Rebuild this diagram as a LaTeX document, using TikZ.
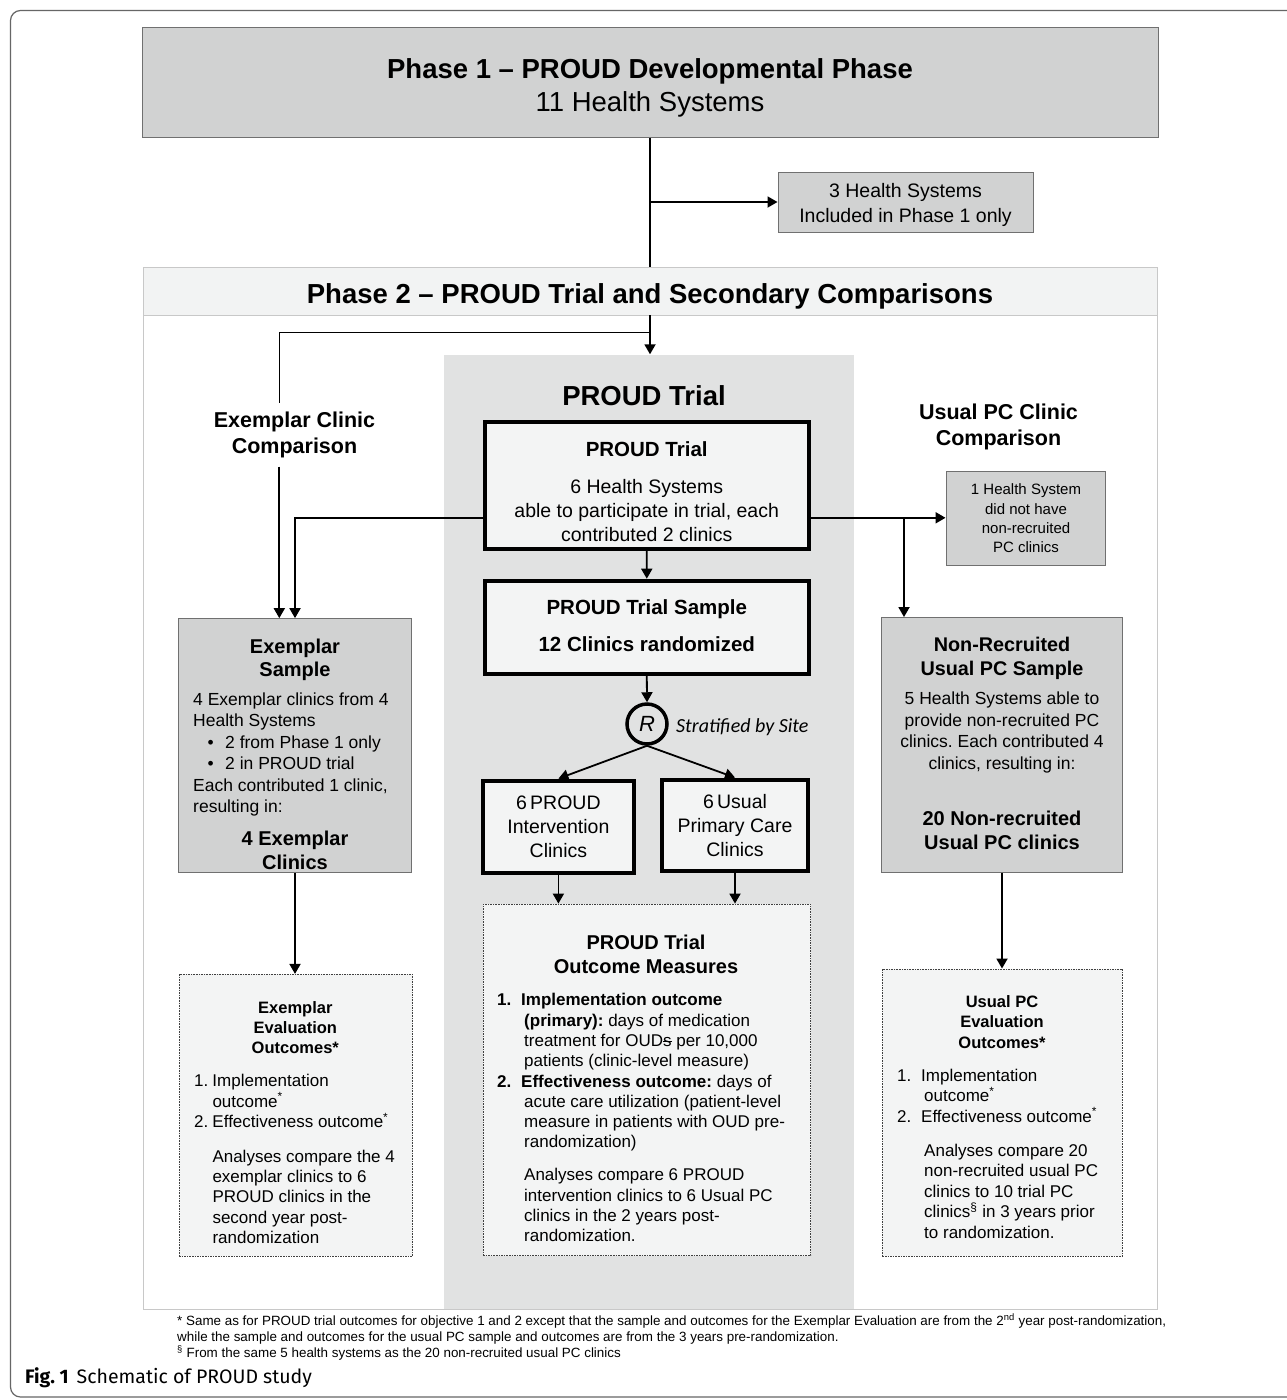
\documentclass[tikz,border=0pt]{standalone}
\usepackage{fontspec}
\setmainfont{Liberation Sans}
\newfontfamily\capfont{Fira Sans}
\newfontfamily\calfont{Carlito}
\usetikzlibrary{arrows.meta}
\definecolor{boxgray}{HTML}{D1D2D2}
\definecolor{regiongray}{HTML}{E1E2E2}
\definecolor{lightbox}{HTML}{F3F4F4}
\definecolor{headfill}{HTML}{F2F3F3}
\definecolor{edgegray}{HTML}{707070}
\definecolor{areaedge}{HTML}{C8C8C8}
\newcommand\fsz[2]{\fontsize{#1}{#2}\selectfont}
\newcommand\strk[1]{#1\llap{\rule[0.28em]{0.5em}{0.07em}}}
\frenchspacing
\begin{document}
\begin{tikzpicture}[x=1pt,y=-1pt,
  arr/.style={line width=1.8pt,-{Triangle[length=10pt,width=11pt]}},
  conn/.style={line width=1.8pt},
  graybox/.style={draw=edgegray,line width=1pt,fill=boxgray,inner sep=0pt},
  thickbox/.style={draw=black,line width=4pt,fill=lightbox,inner sep=0pt},
  dashbox/.style={draw=black!75,line width=0.9pt,dash pattern=on 1.6pt off 1pt,fill=lightbox,inner sep=0pt},
  t/.style={inner sep=0pt,align=center},
  tl/.style={inner sep=0pt,align=left,anchor=west}]
\useasboundingbox (0,0) rectangle (1287,1400);
\fill[white] (0,0) rectangle (1287,1400);
% outer frame
\draw[line width=1.2pt,draw=black!60,rounded corners=10pt] (1300,10.5) -- (10.5,10.5) -- (10.5,1397) -- (1300,1397);

% Phase 1
\node[graybox,minimum width=1016pt,minimum height=110pt] (p1) at (650,82) {};
\node[t,anchor=base,font=\bfseries\fsz{27.5}{33}] (p1t) at (650,78) {Phase 1 – PROUD Developmental Phase};
\node[t,anchor=base,font=\fsz{27.5}{33}] (p1s) at (650,111.6) {11 Health Systems};
\node[graybox,minimum width=255pt,minimum height=60pt] (h3) at (905.5,202) {};
\node[t,font=\fsz{19.5}{24.5}] (h3t) at (905.5,205) {3 Health Systems\\Included in Phase 1 only};

% Phase 2 area
\node[draw=areaedge,line width=1pt,fill=white,minimum width=1014pt,minimum height=1042pt,inner sep=0pt] (p2) at (650,788) {};
\node[draw=areaedge,line width=0.8pt,fill=headfill,minimum width=1014pt,minimum height=48pt,inner sep=0pt] (p2head) at (650,291) {};
\node[t,anchor=base,font=\bfseries\fsz{27.5}{33}] (p2t) at (650,303) {Phase 2 – PROUD Trial and Secondary Comparisons};
\node[fill=regiongray,minimum width=410pt,minimum height=954pt,inner sep=0pt] (trialregion) at (649,831.5) {};
\node[t,anchor=base,font=\bfseries\fsz{27.5}{33}] (trialhead) at (644,405) {PROUD Trial};

% centre column
\node[thickbox,minimum width=324pt,minimum height=127pt] (trial) at (646.7,485.5) {};
\node[t,anchor=base,font=\bfseries\fsz{20.5}{24}] (trialt) at (646.7,456.4) {PROUD Trial};
\node[t,font=\fsz{19.5}{24}] (trialb) at (646.7,511) {6 Health Systems\\able to participate in trial, each\\contributed 2 clinics};
\node[thickbox,minimum width=324pt,minimum height=93pt] (sample) at (646.8,627.2) {};
\node[t,anchor=base,font=\bfseries\fsz{20.5}{24}] (samplet) at (646.8,614.4) {PROUD Trial Sample};
\node[t,anchor=base,font=\bfseries\fsz{20.5}{24}] (sampleb) at (646.8,651.4) {12 Clinics randomized};
\node[circle,draw=black,line width=3.5pt,minimum size=40pt,inner sep=0pt,font=\itshape\fsz{22}{22}] (R) at (647,724) {R};
\node[t,anchor=base west,font=\calfont\itshape\fsz{20}{24}] (strat) at (676,732.4) {Stratified by Site};
\node[thickbox,minimum width=151pt,minimum height=92pt] (int) at (558.4,826.6) {};
\node[t,font=\fsz{19.5}{24}] (intt) at (558.4,826.4) {6\,PROUD\\Intervention\\Clinics};
\node[thickbox,minimum width=146pt,minimum height=91.5pt] (usual) at (735,825.3) {};
\node[t,font=\fsz{19.5}{24}] (usualt) at (735,825.5) {6\,Usual\\Primary Care\\Clinics};
\node[dashbox,minimum width=327.7pt,minimum height=351.7pt] (outc) at (646.9,1079.9) {};
\node[t,font=\bfseries\fsz{20}{24}] (outct) at (646,954) {PROUD Trial\\Outcome Measures};
\node[tl,font=\fsz{17}{20.3}] (outcb) at (497,1117.8) {%
\makebox[24pt][l]{\textbf{1.}}\textbf{Implementation outcome}\\
\hspace*{27pt}\textbf{(primary):} days of medication\\
\hspace*{27pt}treatment for OUD\strk{s} per 10,000\\
\hspace*{27pt}patients (clinic-level measure)\\
\makebox[24pt][l]{\textbf{2.}}\textbf{Effectiveness outcome:} days of\\
\hspace*{27pt}acute care utilization (patient-level\\
\hspace*{27pt}measure in patients with OUD pre-\\
\hspace*{27pt}randomization)\\[12.7pt]
\hspace*{27pt}Analyses compare 6 PROUD\\
\hspace*{27pt}intervention clinics to 6 Usual PC\\
\hspace*{27pt}clinics in the 2 years post-\\
\hspace*{27pt}randomization.};

% left column
\node[t,minimum height=63pt,font=\bfseries\fsz{21.5}{26}] (exlab) at (294.5,435) {Exemplar Clinic\\Comparison};
\node[graybox,minimum width=233.4pt,minimum height=253.7pt] (exsample) at (295,745.5) {};
\node[t,font=\bfseries\fsz{20}{23}] (exst) at (295,659.5) {Exemplar\\Sample};
\node[tl,font=\fsz{17.5}{21.4}] (exsb) at (193,754.5) {%
4 Exemplar clinics from 4\\
Health Systems\\
\hspace*{14.5pt}\makebox[17.5pt][l]{•}2 from Phase 1 only\\
\hspace*{14.5pt}\makebox[17.5pt][l]{•}2 in PROUD trial\\
Each contributed 1 clinic,\\
resulting in:};
\node[t,font=\bfseries\fsz{20}{24}] (exsc) at (295,850) {4 Exemplar\\Clinics};
\node[dashbox,minimum width=233.7pt,minimum height=281.7pt] (exout) at (295.9,1115.2) {};
\node[t,font=\bfseries\fsz{16.5}{20}] (exoutt) at (295.3,1027.7) {Exemplar\\Evaluation\\Outcomes*};
\node[tl,font=\fsz{17}{20.2}] (exoutb) at (194,1159) {%
\makebox[18.3pt][l]{1.}Implementation\\
\hspace*{18.3pt}outcome\textsuperscript{*}\\
\makebox[18.3pt][l]{2.}Effectiveness outcome\textsuperscript{*}\\[15pt]
\hspace*{18.3pt}Analyses compare the 4\\
\hspace*{18.3pt}exemplar clinics to 6\\
\hspace*{18.3pt}PROUD clinics in the\\
\hspace*{18.3pt}second year post-\\
\hspace*{18.3pt}randomization};

% right column
\node[t,font=\bfseries\fsz{21.5}{26}] (uslab) at (998.5,426.6) {Usual PC Clinic\\Comparison};
\node[graybox,minimum width=159.7pt,minimum height=94.3pt] (hs1) at (1025.9,518.6) {};
\node[t,font=\fsz{15}{19.3}] (hs1t) at (1026,518.5) {1 Health System\\did not have\\non-recruited\\PC clinics};
\node[graybox,minimum width=241.4pt,minimum height=254.5pt] (nr) at (1002,744.8) {};
\node[t,font=\bfseries\fsz{19.8}{24}] (nrt) at (1002,658) {Non-Recruited\\Usual PC Sample};
\node[t,font=\fsz{17.5}{21.5}] (nrb) at (1002,732.3) {5 Health Systems able to\\provide non-recruited PC\\clinics. Each contributed 4\\clinics, resulting in:};
\node[t,font=\bfseries\fsz{20}{24}] (nrc) at (1002,830) {20 Non-recruited\\Usual PC clinics};
\node[dashbox,minimum width=240pt,minimum height=287pt] (nrout) at (1002.3,1112.5) {};
\node[t,font=\bfseries\fsz{16.5}{20.4}] (nroutt) at (1002,1022) {Usual PC\\Evaluation\\Outcomes*};
\node[tl,font=\fsz{17}{20.5}] (nroutb) at (897,1153.5) {%
\makebox[24pt][l]{1.}Implementation\\
\hspace*{27pt}outcome\textsuperscript{*}\\
\makebox[24pt][l]{2.}Effectiveness outcome\textsuperscript{*}\\[13.5pt]
\hspace*{27pt}Analyses compare 20\\
\hspace*{27pt}non-recruited usual PC\\
\hspace*{27pt}clinics to 10 trial PC\\
\hspace*{27pt}clinics\textsuperscript{\S} in 3 years prior\\
\hspace*{27pt}to randomization.};

% connectors
\coordinate (b1) at (650,332.5);
\coordinate (exl) at (279.3,332.5);
\coordinate (yl) at (0,517.8);
\coordinate (rb) at (904,517.8);
\draw[line width=1.3pt] (p1.south) -- (p2head.north);
\draw[arr] (p1.south |- h3.west) -- (h3.west);
\draw[arr] (p2head.south) -- (p2head.south |- trialregion.north);
\draw[line width=1.3pt] (b1) -- (exl) -- (exl |- exlab.north);
\draw[arr] (exl |- exlab.south) -- (exl |- exsample.north);
\draw[arr] (trial.west |- yl) -| (exsample.north);
\draw[arr] (trial.east |- yl) -- (hs1.west |- yl);
\draw[arr] (rb) -- (rb |- nr.north);
\draw[arr] (trial.south) -- (sample.north);
\draw[arr] (sample.south) -- (R.north);
\draw[arr] (R.south) -- (int.north);
\draw[arr] (R.south) -- (usual.north);
\draw[arr] (int.south) -- (int.south |- outc.north);
\draw[arr] (usual.south) -- (usual.south |- outc.north);
\draw[arr] (exsample.south) -- (exsample.south |- exout.north);
\draw[arr] (nr.south) -- (nr.south |- nrout.north);

% footnotes and caption
\node[tl,anchor=base west,font=\fsz{13.4}{16}] (fn1) at (177,1325.5) {* Same as for PROUD trial outcomes for objective 1 and 2 except that the sample and outcomes for the Exemplar Evaluation are from the 2\textsuperscript{nd} year post-randomization,};
\node[tl,anchor=base west,font=\fsz{13.4}{16}] (fn2) at (177,1341.5) {while the sample and outcomes for the usual PC sample and outcomes are from the 3 years pre-randomization.};
\node[tl,anchor=base west,font=\fsz{13.4}{16}] (fn3) at (177,1357.5) {\textsuperscript{\S} From the same 5 health systems as the 20 non-recruited usual PC clinics};
\node[tl,anchor=base west,font=\capfont\fsz{19.5}{22}] (cap) at (25,1383) {\textbf{Fig. 1}\hspace{8pt}Schematic of PROUD study};
\end{tikzpicture}
\end{document}
